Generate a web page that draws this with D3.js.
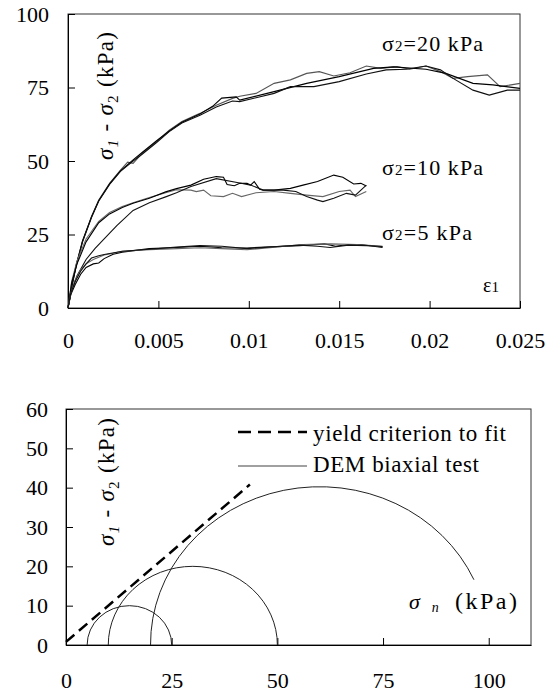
<!DOCTYPE html>
<html>
<head>
<meta charset="utf-8">
<script src="https://cdn.jsdelivr.net/npm/d3@7/dist/d3.min.js"></script>
<style>
  body { margin: 0; background: #fff; }
  svg { display: block; }
  svg text { font-family: "Liberation Serif", "Times New Roman", Times, serif; }
</style>
</head>
<body>
<script>
// ---- top chart: stress-strain curves ----
const strainTicks = [0, 0.005, 0.01, 0.015, 0.02, 0.025];
const strainLabels = ["0", "0.005", "0.01", "0.015", "0.02", "0.025"];
const stressTicks = [0, 25, 50, 75, 100];

// sigma2 = 20 kPa (three tests)
const c20a = [[0,0],[0.00017,6.1],[0.00044,14.1],[0.0008,22.6],[0.0013,31.1],[0.0017,36.7],[0.0023,42.4],[0.0029,46.9],[0.0033,49.6],[0.0036,49.2],[0.0041,52.6],[0.0049,56.6],[0.0056,60.5],[0.0063,63.4],[0.0073,66.2],[0.0082,69.0],[0.0091,71.3],[0.0095,72.0],[0.0104,73.0],[0.0114,76.4],[0.0123,77.6],[0.0132,79.8],[0.0139,80.4],[0.0147,78.9],[0.0156,80.0],[0.0165,82.3],[0.0173,81.5],[0.0182,82.1],[0.0189,81.2],[0.0198,82.3],[0.0206,80.4],[0.0213,78.1],[0.0221,78.7],[0.0232,79.3],[0.0239,75.3],[0.025,76.4]];
const c20b = [[0,0],[0.00017,6.3],[0.00044,14.3],[0.0008,22.8],[0.0013,31.0],[0.0017,36.5],[0.0023,42.2],[0.0029,46.6],[0.0036,50.4],[0.0041,52.9],[0.0049,56.9],[0.0056,60.2],[0.0063,63.2],[0.0073,66.0],[0.008,68.6],[0.0085,71.4],[0.0093,71.8],[0.0095,70.7],[0.0114,73.6],[0.0132,76.4],[0.015,78.7],[0.0169,81.5],[0.018,82.0],[0.0198,81.2],[0.0209,79.8],[0.0224,76.4],[0.0235,75.9],[0.025,74.7]];
const c20c = [[0,0],[0.00017,6.0],[0.00044,13.9],[0.0008,22.4],[0.0013,30.8],[0.0017,36.4],[0.0023,42.0],[0.0029,46.5],[0.0036,50.0],[0.0041,52.3],[0.0049,56.3],[0.0056,60.0],[0.0063,62.9],[0.0073,65.6],[0.0082,68.4],[0.0091,70.4],[0.0095,70.2],[0.0114,73.0],[0.0123,75.3],[0.0136,75.3],[0.015,77.0],[0.0165,79.6],[0.0176,81.0],[0.0187,81.2],[0.0198,82.3],[0.0206,81.0],[0.0213,78.1],[0.0224,74.1],[0.0233,72.4],[0.0243,74.1],[0.025,74.1]];

// sigma2 = 10 kPa
const c10a = [[0,0],[0.0002,9],[0.0005,16],[0.001,23.5],[0.0017,29.5],[0.0023,32.5],[0.003,34.5],[0.0036,35.8],[0.0045,37.6],[0.0054,39.2],[0.006,40.2],[0.0068,40.1],[0.0071,39.6],[0.0075,40.1],[0.0079,38.2],[0.0086,37.9],[0.0091,39.0],[0.0096,37.9],[0.0104,39.2],[0.0114,39.6],[0.0123,39.0],[0.0132,38.4],[0.0141,37.9],[0.015,39.6],[0.0156,40.1],[0.0159,37.9],[0.0165,39.6]];
const c10b = [[0,0],[0.0002,8.5],[0.0005,15],[0.001,22.5],[0.0017,29],[0.0023,32],[0.003,34.2],[0.0036,35.6],[0.0045,37.3],[0.0054,39.5],[0.006,40.6],[0.0068,41.8],[0.0075,43.8],[0.0082,44.7],[0.0086,44.5],[0.0088,42.0],[0.0092,41.6],[0.0095,42.4],[0.0099,42.4],[0.0101,41.8],[0.0103,43.0],[0.0106,40.4],[0.0108,40.1],[0.0114,40.1],[0.0123,40.7],[0.013,41.8],[0.0138,43.0],[0.0147,45.2],[0.0152,44.5],[0.0158,42.2],[0.0162,42.4],[0.0165,41.5]];
const c10c = [[0,0],[0.0002,6],[0.0005,11],[0.001,16.5],[0.0015,20.3],[0.002,23.5],[0.0027,28],[0.0036,33.2],[0.0045,35.8],[0.0054,37.8],[0.006,39.2],[0.0068,41.3],[0.0082,44.0],[0.0095,42.5],[0.0101,41.8],[0.0108,40.1],[0.0119,40.1],[0.0126,39.6],[0.0132,37.9],[0.0138,36.7],[0.0141,36.2],[0.0147,37.3],[0.0154,39.0],[0.0159,38.4],[0.0165,41.8]];

// sigma2 = 5 kPa
const c5a = [[0,0],[0.00015,4.5],[0.0004,8],[0.0007,11.5],[0.001,13.8],[0.0014,15],[0.0017,15.3],[0.002,16.8],[0.0025,18.3],[0.003,19],[0.0045,20.2],[0.006,20.6],[0.0073,21],[0.0085,20.5],[0.0099,20.4],[0.0112,20.8],[0.0128,21.2],[0.0142,21.8],[0.0148,21.0],[0.0155,21.6],[0.0162,21.6],[0.0174,20.6]];
const c5b = [[0,0],[0.00015,5],[0.0004,9.5],[0.0007,13],[0.001,15],[0.0014,16.5],[0.002,18],[0.0025,18.6],[0.003,19.3],[0.0045,19.8],[0.006,20.2],[0.0073,20.5],[0.0085,20.2],[0.0099,19.8],[0.0116,20.8],[0.013,21.6],[0.0145,21.8],[0.016,21.6],[0.0174,21.0]];
const c5c = [[0,0],[0.00015,5],[0.0004,9],[0.0007,12.5],[0.001,15],[0.0013,17],[0.0017,17.8],[0.002,18.2],[0.003,19.3],[0.0045,20],[0.006,20.7],[0.0073,21.2],[0.0085,21],[0.0099,20.2],[0.0116,20.9],[0.0128,21.4],[0.0138,21.0],[0.0145,20.6],[0.0155,21.4],[0.0165,21.2],[0.0174,20.9]];

const curves = [c20a, c20b, c20c, c10a, c10b, c10c, c5a, c5b, c5c];
const curveColors = ["#555", "#000", "#111", "#666", "#000", "#111", "#000", "#666", "#111"];
const curveLabels = ["20 kPa", "10 kPa", "5 kPa"];

// ---- bottom chart: Mohr circles ----
const normalTicks = [0, 25, 50, 75, 100];
const shearTicks = [0, 10, 20, 30, 40, 50, 60];
const mohrS3 = [5, 10, 20];        // kPa
const mohrS1 = [25, 50, 100];      // kPa
const mohrEnd = [[25, 0], [50, 0], [96.5, 16.6]];
const yieldLine = [[0, 0.8], [43.5, 40.8]];
const legendLabels = ["yield criterion to fit", "DEM biaxial test"];

const svg = d3.select("body").append("svg")
  .attr("width", 555)
  .attr("height", 700)
  .style("background", "#fff");

const styleAxis = (g) => {
  g.attr("font-family", null).attr("font-size", 22);
  g.selectAll("text").attr("fill", "#000");
  g.selectAll("line").attr("stroke", "#000");
  g.select(".domain").attr("stroke", "#000");
};

// ================= top =================
const x1 = d3.scaleLinear().domain([0, 0.025]).range([68, 520]);
const y1 = d3.scaleLinear().domain([0, 100]).range([308, 14]);

svg.append("rect")
  .attr("x", 68).attr("y", 14)
  .attr("width", x1(0.025) - x1(0)).attr("height", y1(0) - y1(100))
  .attr("fill", "none").attr("stroke", "#333").attr("stroke-width", 1);

svg.append("g")
  .attr("transform", `translate(0,${y1(0)})`)
  .call(d3.axisBottom(x1).tickValues(strainTicks).tickFormat((d, i) => strainLabels[i])
    .tickSizeInner(-7).tickSizeOuter(0).tickPadding(24))
  .call(styleAxis);

svg.append("g")
  .attr("transform", `translate(${x1(0)},0)`)
  .call(d3.axisLeft(y1).tickValues(stressTicks).tickSizeInner(-7).tickSizeOuter(0).tickPadding(19))
  .call(styleAxis);

const line1 = d3.line().x(d => x1(d[0])).y(d => y1(d[1]));

svg.selectAll(".curve")
  .data(curves)
  .enter()
  .append("path")
  .attr("class", "curve")
  .attr("d", line1)
  .attr("fill", "none")
  .attr("stroke", (d, i) => curveColors[i])
  .attr("stroke-width", 1.1);

// sigma2 annotations
const annoPos = [[382, 51, 101], [382, 175, 101], [382, 240, 90]];
curveLabels.forEach((lab, i) => {
  const t = svg.append("text")
    .attr("x", annoPos[i][0]).attr("y", annoPos[i][1])
    .attr("font-size", 22)
    .attr("textLength", annoPos[i][2])
    .attr("lengthAdjust", "spacing");
  t.append("tspan").text("σ");
  t.append("tspan").attr("font-size", 15).text("2");
  t.append("tspan").text("=" + lab);
});

const eps = svg.append("text")
  .attr("x", 483).attr("y", 292)
  .attr("font-size", 20);
eps.append("tspan").text("ε");
eps.append("tspan").attr("font-size", 15).text("1");

const yTitle = (cx, cy) => {
  const t = svg.append("text")
    .attr("transform", `translate(${cx},${cy}) rotate(-90)`)
    .attr("text-anchor", "middle")
    .attr("font-size", 23)
    .attr("textLength", 128)
    .attr("lengthAdjust", "spacing");
  t.append("tspan").attr("font-style", "italic").text("σ");
  t.append("tspan").attr("font-style", "italic").attr("font-size", 15).attr("dy", 5).text("1");
  t.append("tspan").attr("dy", -5).text(" - ");
  t.append("tspan").attr("font-style", "italic").text("σ");
  t.append("tspan").attr("font-size", 15).attr("dy", 5).text("2");
  t.append("tspan").attr("dy", -5).text(" (kPa)");
};
yTitle(113, 96);

// ================= bottom =================
const x2 = d3.scaleLinear().domain([0, 110]).range([66, 531]);
const y2 = d3.scaleLinear().domain([0, 60]).range([645, 409]);

svg.append("rect")
  .attr("x", x2(0)).attr("y", y2(60))
  .attr("width", x2(110) - x2(0)).attr("height", y2(0) - y2(60))
  .attr("fill", "none").attr("stroke", "#333").attr("stroke-width", 1);

svg.append("g")
  .attr("transform", `translate(0,${y2(0)})`)
  .call(d3.axisBottom(x2).tickValues(normalTicks).tickSizeInner(-7).tickSizeOuter(0).tickPadding(27))
  .call(styleAxis);

svg.append("g")
  .attr("transform", `translate(${x2(0)},0)`)
  .call(d3.axisLeft(y2).tickValues(shearTicks).tickSizeInner(-7).tickSizeOuter(0).tickPadding(18))
  .call(styleAxis);

// Mohr semicircles (drawn as arcs through the scales)
svg.selectAll(".mohr")
  .data(mohrS3)
  .enter()
  .append("path")
  .attr("class", "mohr")
  .attr("d", (s3, i) => {
    const r = (mohrS1[i] - s3) / 2;
    const rx = x2(r) - x2(0);
    const ry = y2(0) - y2(r);
    return `M${x2(s3)},${y2(0)} A${rx},${ry} 0 0 1 ${x2(mohrEnd[i][0])},${y2(mohrEnd[i][1])}`;
  })
  .attr("fill", "none")
  .attr("stroke", "#222")
  .attr("stroke-width", 1);

const line2 = d3.line().x(d => x2(d[0])).y(d => y2(d[1]));

svg.append("path")
  .datum(yieldLine)
  .attr("d", line2)
  .attr("fill", "none")
  .attr("stroke", "#000")
  .attr("stroke-width", 2.5)
  .attr("stroke-dasharray", "11,6");

// legend
svg.append("line")
  .attr("x1", 238).attr("x2", 307).attr("y1", 432).attr("y2", 432)
  .attr("stroke", "#000").attr("stroke-width", 2.5).attr("stroke-dasharray", "13,7");
svg.append("line")
  .attr("x1", 238).attr("x2", 307).attr("y1", 466).attr("y2", 466)
  .attr("stroke", "#808080").attr("stroke-width", 1.5);
const legendWidths = [193, 166];
svg.selectAll(".legtext")
  .data(legendLabels)
  .enter()
  .append("text")
  .attr("class", "legtext")
  .attr("x", 313)
  .attr("y", (d, i) => 441 + i * 31)
  .attr("font-size", 23)
  .attr("textLength", (d, i) => legendWidths[i])
  .attr("lengthAdjust", "spacing")
  .text(d => d);

yTitle(114, 482);

const sn = svg.append("text")
  .attr("x", 409).attr("y", 609)
  .attr("font-size", 22)
  .attr("font-style", "italic");
sn.append("tspan").text("σ");
sn.append("tspan").attr("font-size", 14).attr("dx", 12).attr("dy", 3).text("n");

svg.append("text")
  .attr("x", 455).attr("y", 609)
  .attr("font-size", 24)
  .attr("textLength", 62)
  .attr("lengthAdjust", "spacing")
  .text("(kPa)");
</script>
</body>
</html>
